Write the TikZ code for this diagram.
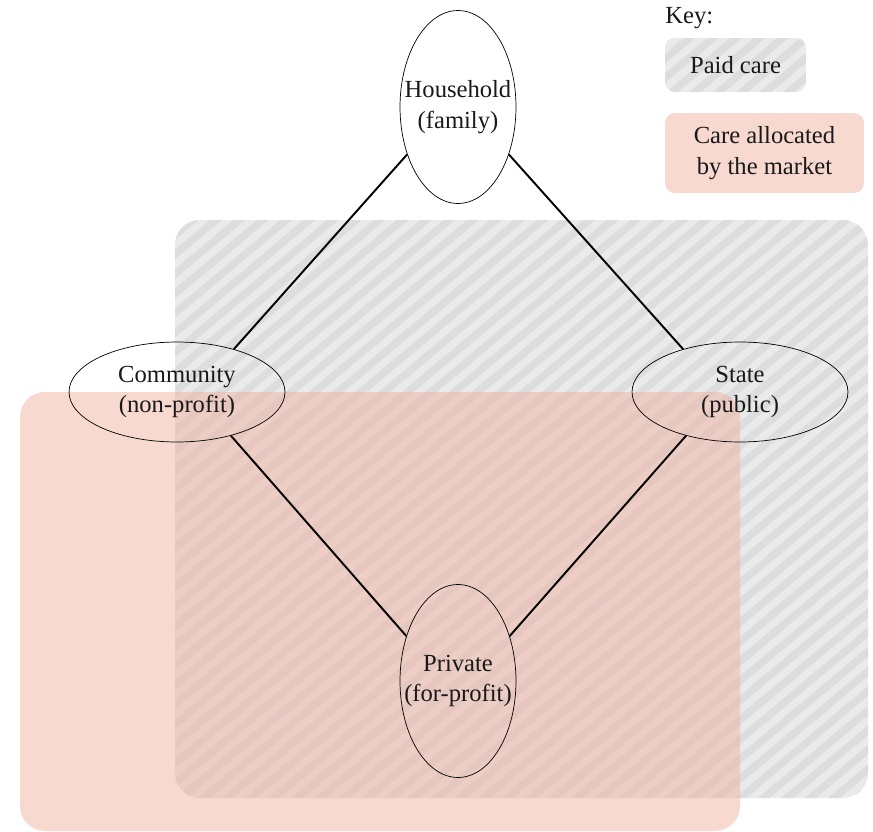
\documentclass[tikz,border=0pt]{standalone}
\usepackage{fontspec}
\setmainfont{Liberation Serif}
\usetikzlibrary{shapes.geometric, positioning, patterns.meta}

\definecolor{paidgrey}{RGB}{234,234,235}
\definecolor{stripegrey}{RGB}{220,221,223}
\definecolor{marketpink}{RGB}{247,217,208}
\definecolor{marketbase}{RGB}{239,179,161}

\begin{document}
\begin{tikzpicture}[
         x=0.02cm, y=-0.02cm,
         txt/.style={font=\fontsize{14}{17.5}\selectfont, align=center, text=black!90},
         sector/.style={ellipse, draw, thin, inner sep=0pt},
         tall/.style={sector, minimum width=2.32cm, minimum height=3.86cm},
         wide/.style={sector, minimum width=4.32cm, minimum height=2cm},
         paid/.style={preaction={fill=paidgrey},
            pattern={Lines[angle=40, distance=0.3cm, line width=0.15cm]},
            pattern color=stripegrey},
         market/.style={fill=marketpink},
         link/.style={line width=1.1pt}
      ]
         \useasboundingbox (0,0) rectangle (873,832);

         % Regions
         \path[paid, rounded corners=0.5cm] (175,220) rectangle (868,798);
         \path[fill=marketbase, fill opacity=0.5, rounded corners=0.5cm] (20,392) rectangle (740,831);

         % Sectors (shape first, text on top)
         \node[tall] (household) at (458,107) {};
         \node[wide] (community) at (177,392) {};
         \node[wide] (state) at (740,392) {};
         \node[tall] (private) at (458,681) {};
         \node[txt] at (household) {Household\\(family)};
         \node[txt] at (community) {Community\\(non-profit)};
         \node[txt] at (state) {State\\(public)};
         \node[txt] at (private) {Private\\(for-profit)};

         % Links
         \draw[link] (household.223) -- (community.37);
         \draw[link] (household.317) -- (state.143);
         \draw[link] (community.321) -- (private.139);
         \draw[link] (state.219) -- (private.41);

         % Key
         \node[txt, anchor=west, inner sep=0pt] (key) at (665,18) {Key:};
         \node[txt, paid, rounded corners=0.2cm, minimum width=2.82cm, minimum height=1.08cm] (paidkey) at (735.5,65) {Paid care};
         \node[txt, market, rounded corners=0.2cm, minimum width=3.98cm, minimum height=1.6cm] (marketkey) at (764.5,153) {Care allocated\\by the market};
      \end{tikzpicture}
\end{document}
